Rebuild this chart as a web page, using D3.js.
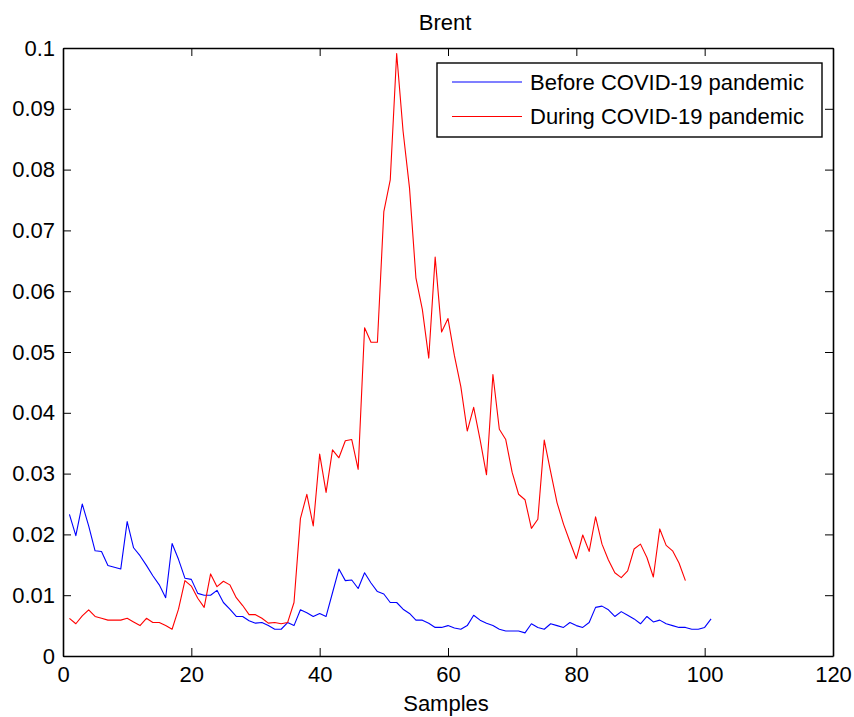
<!DOCTYPE html>
<html>
<head>
<meta charset="utf-8">
<script src="https://cdn.jsdelivr.net/npm/d3@7"></script>
<style>
  html, body { margin: 0; padding: 0; background: #fff; }
  svg { display: block; font-family: Arial, "Liberation Sans", Helvetica, sans-serif; }
</style>
</head>
<body>
<svg id="chart" width="854" height="717"></svg>
<script>
// Volatility series for Brent, one value per sample
const beforeCovid = [
  0.0233, 0.0198, 0.0250, 0.0214, 0.0173, 0.0172, 0.0149, 0.0146, 0.0143, 0.0221,
  0.0178, 0.0165, 0.0149, 0.0132, 0.0117, 0.0096, 0.0185, 0.0159, 0.0128, 0.0126,
  0.0103, 0.0100, 0.0100, 0.0108, 0.0088, 0.0077, 0.0065, 0.0065, 0.0058, 0.0054,
  0.0055, 0.0050, 0.0044, 0.0044, 0.0055, 0.0050, 0.0076, 0.0071, 0.0065, 0.0070,
  0.0065, 0.0104, 0.0143, 0.0124, 0.0125, 0.0111, 0.0137, 0.0120, 0.0106, 0.0102,
  0.0088, 0.0088, 0.0077, 0.0070, 0.0059, 0.0059, 0.0054, 0.0047, 0.0047, 0.0050,
  0.0046, 0.0044, 0.0050, 0.0067, 0.0059, 0.0054, 0.0050, 0.0044, 0.0041, 0.0041,
  0.0041, 0.0038, 0.0053, 0.0047, 0.0044, 0.0053, 0.0050, 0.0047, 0.0055, 0.0050,
  0.0047, 0.0055, 0.0080, 0.0082, 0.0076, 0.0065, 0.0073, 0.0067, 0.0061, 0.0053,
  0.0065, 0.0056, 0.0059, 0.0053, 0.0050, 0.0047, 0.0047, 0.0044, 0.0044, 0.0047,
  0.0061
];

const duringCovid = [
  0.0062, 0.0053, 0.0066, 0.0076, 0.0065, 0.0062, 0.0059, 0.0059, 0.0059, 0.0062,
  0.0056, 0.0050, 0.0062, 0.0055, 0.0055, 0.0050, 0.0044, 0.0077, 0.0124, 0.0115,
  0.0095, 0.0080, 0.0135, 0.0114, 0.0123, 0.0117, 0.0096, 0.0083, 0.0068, 0.0068,
  0.0062, 0.0054, 0.0055, 0.0053, 0.0055, 0.0088, 0.0226, 0.0266, 0.0214, 0.0332,
  0.0269, 0.0339, 0.0326, 0.0354, 0.0356, 0.0307, 0.0540, 0.0516, 0.0516, 0.0731,
  0.0783, 0.0991, 0.0863, 0.0770, 0.0622, 0.0570, 0.0490, 0.0656, 0.0533, 0.0555,
  0.0494, 0.0443, 0.0370, 0.0409, 0.0356, 0.0298, 0.0463, 0.0373, 0.0356, 0.0302,
  0.0266, 0.0257, 0.0210, 0.0225, 0.0355, 0.0303, 0.0252, 0.0217, 0.0188, 0.0160,
  0.0199, 0.0172, 0.0229, 0.0184, 0.0158, 0.0137, 0.0129, 0.0140, 0.0176, 0.0184,
  0.0162, 0.0130, 0.0209, 0.0182, 0.0173, 0.0153, 0.0124
];

const seriesNames = ["Before COVID-19 pandemic", "During COVID-19 pandemic"];
const seriesColors = ["#0000ff", "#ff0000"];
const xTicks = [0, 20, 40, 60, 80, 100, 120];
const yTicks = [0, 0.01, 0.02, 0.03, 0.04, 0.05, 0.06, 0.07, 0.08, 0.09, 0.1];
const yTickLabels = ["0", "0.01", "0.02", "0.03", "0.04", "0.05", "0.06", "0.07", "0.08", "0.09", "0.1"];
const titleText = "Brent";
const xLabelText = "Samples";

// Layout
const plot = { left: 63, right: 833, top: 48, bottom: 656 };
const fontSize = 22;

const svg = d3.select("#chart");

const x = d3.scaleLinear().domain([0, 120]).range([plot.left, plot.right]);
const y = d3.scaleLinear().domain([0, 0.1]).range([plot.bottom, plot.top]);

// Data lines
const line = d3.line()
  .x((d, i) => x(i + 1))
  .y(d => y(d));

[beforeCovid, duringCovid].forEach((values, k) => {
  svg.append("path")
    .datum(values)
    .attr("fill", "none")
    .attr("stroke", seriesColors[k])
    .attr("stroke-width", 1.1)
    .attr("stroke-linejoin", "round")
    .attr("d", line);
});

// Axes: ticks point inward on all four sides (boxed frame)
const tickLen = 8;
const axisStyle = g => {
  g.selectAll(".domain").attr("stroke", "#000").attr("stroke-width", 1.6);
  g.selectAll(".tick line").attr("stroke", "#000").attr("stroke-width", 1);
  g.selectAll("text").attr("fill", "#000").attr("font-size", fontSize)
    .attr("font-family", "Arial, 'Liberation Sans', Helvetica, sans-serif");
};

svg.append("g")
  .attr("transform", `translate(0,${plot.bottom})`)
  .call(d3.axisBottom(x).tickValues(xTicks).tickSizeInner(-tickLen).tickSizeOuter(0).tickPadding(10).tickFormat(d3.format("d")))
  .call(axisStyle);

svg.append("g")
  .attr("transform", `translate(0,${plot.top})`)
  .call(d3.axisTop(x).tickValues(xTicks).tickSizeInner(-tickLen).tickSizeOuter(0).tickFormat(""))
  .call(axisStyle);

svg.append("g")
  .attr("transform", `translate(${plot.left},0)`)
  .call(d3.axisLeft(y).tickValues(yTicks).tickSizeInner(-tickLen).tickSizeOuter(0).tickPadding(8)
    .tickFormat((d, i) => yTickLabels[i]))
  .call(axisStyle);

svg.append("g")
  .attr("transform", `translate(${plot.right},0)`)
  .call(d3.axisRight(y).tickValues(yTicks).tickSizeInner(-tickLen).tickSizeOuter(0).tickFormat(""))
  .call(axisStyle);

// Title and axis label
svg.append("text")
  .attr("x", 445)
  .attr("y", 30)
  .attr("text-anchor", "middle")
  .attr("font-size", fontSize)
  .text(titleText);

svg.append("text")
  .attr("x", 446)
  .attr("y", 711)
  .attr("text-anchor", "middle")
  .attr("font-size", fontSize)
  .text(xLabelText);

// Legend
const legend = svg.append("g");
legend.append("rect")
  .attr("x", 437).attr("y", 63)
  .attr("width", 385).attr("height", 74)
  .attr("fill", "#fff")
  .attr("stroke", "#000")
  .attr("stroke-width", 1.4);

seriesNames.forEach((name, k) => {
  const ly = 82 + k * 34.5;
  legend.append("line")
    .attr("x1", 452).attr("x2", 522)
    .attr("y1", ly).attr("y2", ly)
    .attr("stroke", seriesColors[k])
    .attr("stroke-width", 1.1);
  legend.append("text")
    .attr("x", 530)
    .attr("y", ly)
    .attr("dy", "0.35em")
    .attr("font-size", fontSize)
    .text(name);
});
</script>
</body>
</html>
